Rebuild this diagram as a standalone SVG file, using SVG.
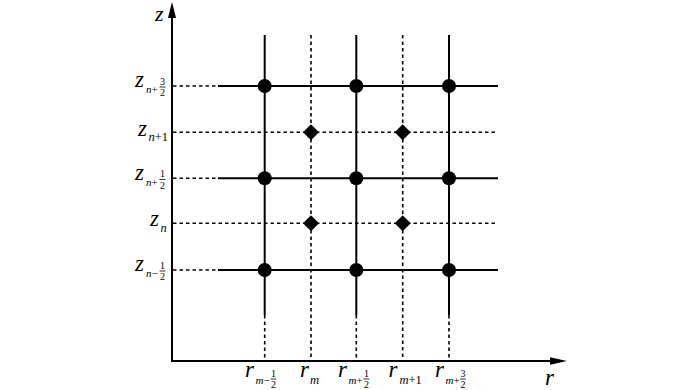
<svg xmlns="http://www.w3.org/2000/svg" width="700" height="390" viewBox="0 0 700 390">
<style>
.ax{stroke:#000;stroke-width:2;fill:none}
.sl{stroke:#000;stroke-width:2;fill:none}
.dl{stroke:#000;stroke-width:1.6;fill:none;stroke-dasharray:3.5 3}
.pt{fill:#000}
text{font-family:'Liberation Serif','Times New Roman','DejaVu Serif',serif;fill:#000}
.v{font-style:italic;font-size:23px}
.s{font-size:11px}
.s2{font-size:12.5px}
.si{font-style:italic}
.f{font-size:10px;text-anchor:middle}
.fl{stroke:#000;stroke-width:0.8}
</style>
<rect width="700" height="390" fill="#fff"/>
<g id="connectors">
  <g id="grid-dotted-left">
    <line class="dl" x1="173" y1="86" x2="218" y2="86"/>
    <line class="dl" x1="173" y1="178.3" x2="218" y2="178.3"/>
    <line class="dl" x1="173" y1="270" x2="218" y2="270"/>
    <line class="dl" x1="173" y1="132.3" x2="498" y2="132.3"/>
    <line class="dl" x1="173" y1="223.3" x2="498" y2="223.3"/>
  </g>
  <g id="grid-solid-h">
    <line class="sl" x1="218" y1="86" x2="498" y2="86"/>
    <line class="sl" x1="218" y1="178.3" x2="498" y2="178.3"/>
    <line class="sl" x1="218" y1="270" x2="498" y2="270"/>
  </g>
  <g id="grid-v">
    <line class="sl" x1="264.7" y1="35" x2="264.7" y2="315"/>
    <line class="sl" x1="356.3" y1="35" x2="356.3" y2="315"/>
    <line class="sl" x1="449" y1="35" x2="449" y2="315"/>
    <line class="dl" x1="264.7" y1="315" x2="264.7" y2="360"/>
    <line class="dl" x1="356.3" y1="315" x2="356.3" y2="360"/>
    <line class="dl" x1="449" y1="315" x2="449" y2="360"/>
    <line class="dl" x1="311" y1="35" x2="311" y2="360"/>
    <line class="dl" x1="402.7" y1="35" x2="402.7" y2="360"/>
  </g>
</g>
<g id="axes">
  <line class="ax" x1="172" y1="362" x2="172" y2="14"/>
  <polygon class="pt" points="172,2 168,18 176,18"/>
  <line class="ax" x1="171" y1="361" x2="553" y2="361"/>
  <polygon class="pt" points="567,361 550,357.3 550,364.7"/>
</g>
<g id="nodes">
  <g id="c-1-1"><circle class="pt" cx="264.7" cy="86" r="7"/></g>
  <g id="c-2-1"><circle class="pt" cx="356.3" cy="86" r="7"/></g>
  <g id="c-3-1"><circle class="pt" cx="449" cy="86" r="7"/></g>
  <g id="c-1-2"><circle class="pt" cx="264.7" cy="178.3" r="7"/></g>
  <g id="c-2-2"><circle class="pt" cx="356.3" cy="178.3" r="7"/></g>
  <g id="c-3-2"><circle class="pt" cx="449" cy="178.3" r="7"/></g>
  <g id="c-1-3"><circle class="pt" cx="264.7" cy="270" r="7"/></g>
  <g id="c-2-3"><circle class="pt" cx="356.3" cy="270" r="7"/></g>
  <g id="c-3-3"><circle class="pt" cx="449" cy="270" r="7"/></g>
  <g id="d-1-1"><polygon class="pt" points="311,124.3 319,132.3 311,140.3 303,132.3"/></g>
  <g id="d-2-1"><polygon class="pt" points="402.7,124.3 410.7,132.3 402.7,140.3 394.7,132.3"/></g>
  <g id="d-1-2"><polygon class="pt" points="311,215.3 319,223.3 311,231.3 303,223.3"/></g>
  <g id="d-2-2"><polygon class="pt" points="402.7,215.3 410.7,223.3 402.7,231.3 394.7,223.3"/></g>
</g>
<g id="labels">
  <text class="v" x="155" y="20.5" style="font-size:22px">z</text>
  <text class="v" x="545" y="385">r</text>
  <g id="lz-n32">
    <text class="v" x="135" y="87">z</text>
    <text class="s" x="146" y="93"><tspan class="si">n</tspan>+</text>
    <text class="f" x="162.5" y="84.5">3</text>
    <line class="fl" x1="159.5" y1="87" x2="165.5" y2="87"/>
    <text class="f" x="162.5" y="96">2</text>
  </g>
  <g id="lz-n1">
    <text class="v" x="138" y="135.5">z</text>
    <text class="s2" x="148.5" y="141"><tspan class="si">n</tspan>+1</text>
  </g>
  <g id="lz-n12">
    <text class="v" x="135" y="179.5">z</text>
    <text class="s" x="146" y="185.5"><tspan class="si">n</tspan>+</text>
    <text class="f" x="162.5" y="177">1</text>
    <line class="fl" x1="159.5" y1="179.5" x2="165.5" y2="179.5"/>
    <text class="f" x="162.5" y="188.5">2</text>
  </g>
  <g id="lz-n">
    <text class="v" x="150" y="226.3">z</text>
    <text class="s2 si" x="160.5" y="231.8">n</text>
  </g>
  <g id="lz-nm12">
    <text class="v" x="135" y="271">z</text>
    <text class="s" x="146" y="277"><tspan class="si">n</tspan>−</text>
    <text class="f" x="162.5" y="268.5">1</text>
    <line class="fl" x1="159.5" y1="271" x2="165.5" y2="271"/>
    <text class="f" x="162.5" y="280">2</text>
  </g>
  <g id="lr-mm12">
    <text class="v" x="245" y="377">r</text>
    <text class="s" x="255.5" y="384"><tspan class="si">m</tspan>−</text>
    <text class="f" x="273.5" y="376.5">1</text>
    <line class="fl" x1="270.5" y1="379" x2="276.5" y2="379"/>
    <text class="f" x="273.5" y="387.5">2</text>
  </g>
  <g id="lr-m">
    <text class="v" x="300" y="377">r</text>
    <text class="s2 si" x="310" y="384">m</text>
  </g>
  <g id="lr-m12">
    <text class="v" x="338" y="377">r</text>
    <text class="s" x="348.5" y="384"><tspan class="si">m</tspan>+</text>
    <text class="f" x="366.5" y="376.5">1</text>
    <line class="fl" x1="363.5" y1="379" x2="369.5" y2="379"/>
    <text class="f" x="366.5" y="387.5">2</text>
  </g>
  <g id="lr-m1">
    <text class="v" x="388.5" y="377">r</text>
    <text class="s2" x="399.5" y="384"><tspan class="si">m</tspan>+1</text>
  </g>
  <g id="lr-m32">
    <text class="v" x="435" y="377">r</text>
    <text class="s" x="445.5" y="384"><tspan class="si">m</tspan>+</text>
    <text class="f" x="463" y="376.5">3</text>
    <line class="fl" x1="460" y1="379" x2="466" y2="379"/>
    <text class="f" x="463" y="387.5">2</text>
  </g>
</g>
</svg>
